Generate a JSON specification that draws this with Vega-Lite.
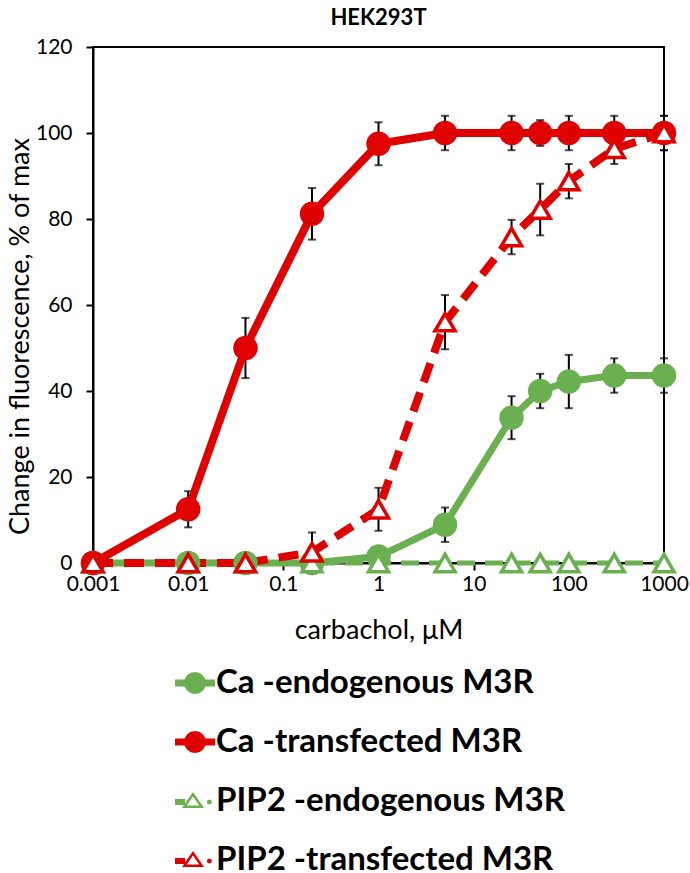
{
  "$schema": "https://vega.github.io/schema/vega-lite/v6.json",
  "width": 571,
  "height": 516,
  "autosize": {"type": "none"},
  "padding": {"left": 93, "top": 47, "right": 26, "bottom": 310},
  "background": "white",
  "title": {"text": "HEK293T", "font": "Lato", "fontSize": 22, "fontWeight": "bold", "color": "black", "offset": 6, "anchor": "middle"},
  "config": {
    "view": {"stroke": "black", "strokeWidth": 2},
    "axis": {"grid": false, "domainColor": "black", "domainWidth": 2, "tickColor": "black", "tickWidth": 2, "tickSize": 7, "labelFlush": false, "labelFont": "Lato", "labelFontSize": 21, "labelColor": "black", "titleFont": "Lato", "titleFontSize": 27, "titleFontWeight": "normal", "titleColor": "black"}
  },
  "datasets": {
    "points": [
      {"conc": 0.001, "series": "Ca -endogenous M3R", "value": 0, "err": null},
      {"conc": 0.01, "series": "Ca -endogenous M3R", "value": 0, "err": null},
      {"conc": 0.04, "series": "Ca -endogenous M3R", "value": 0, "err": null},
      {"conc": 0.2, "series": "Ca -endogenous M3R", "value": 0, "err": null},
      {"conc": 1, "series": "Ca -endogenous M3R", "value": 1.5, "err": null},
      {"conc": 5, "series": "Ca -endogenous M3R", "value": 8.9, "err": 4},
      {"conc": 25, "series": "Ca -endogenous M3R", "value": 33.8, "err": 5},
      {"conc": 50, "series": "Ca -endogenous M3R", "value": 40, "err": 4},
      {"conc": 100, "series": "Ca -endogenous M3R", "value": 42.2, "err": 6.2},
      {"conc": 300, "series": "Ca -endogenous M3R", "value": 43.6, "err": 4},
      {"conc": 1000, "series": "Ca -endogenous M3R", "value": 43.6, "err": 4},
      {"conc": 0.001, "series": "Ca -transfected M3R", "value": 0, "err": null},
      {"conc": 0.01, "series": "Ca -transfected M3R", "value": 12.5, "err": 4.2},
      {"conc": 0.04, "series": "Ca -transfected M3R", "value": 50, "err": 7},
      {"conc": 0.2, "series": "Ca -transfected M3R", "value": 81.2, "err": 6},
      {"conc": 1, "series": "Ca -transfected M3R", "value": 97.5, "err": 5},
      {"conc": 5, "series": "Ca -transfected M3R", "value": 100, "err": 4},
      {"conc": 25, "series": "Ca -transfected M3R", "value": 100, "err": 4},
      {"conc": 50, "series": "Ca -transfected M3R", "value": 100, "err": 3},
      {"conc": 100, "series": "Ca -transfected M3R", "value": 100, "err": 4},
      {"conc": 300, "series": "Ca -transfected M3R", "value": 100, "err": 4},
      {"conc": 1000, "series": "Ca -transfected M3R", "value": 100, "err": 4},
      {"conc": 0.001, "series": "PIP2 -endogenous M3R", "value": 0, "err": null},
      {"conc": 0.01, "series": "PIP2 -endogenous M3R", "value": 0, "err": null},
      {"conc": 0.04, "series": "PIP2 -endogenous M3R", "value": 0, "err": null},
      {"conc": 0.2, "series": "PIP2 -endogenous M3R", "value": 0, "err": null},
      {"conc": 1, "series": "PIP2 -endogenous M3R", "value": 0, "err": null},
      {"conc": 5, "series": "PIP2 -endogenous M3R", "value": 0, "err": null},
      {"conc": 25, "series": "PIP2 -endogenous M3R", "value": 0, "err": null},
      {"conc": 50, "series": "PIP2 -endogenous M3R", "value": 0, "err": null},
      {"conc": 100, "series": "PIP2 -endogenous M3R", "value": 0, "err": null},
      {"conc": 300, "series": "PIP2 -endogenous M3R", "value": 0, "err": null},
      {"conc": 1000, "series": "PIP2 -endogenous M3R", "value": 0, "err": null},
      {"conc": 0.001, "series": "PIP2 -transfected M3R", "value": 0, "err": null},
      {"conc": 0.01, "series": "PIP2 -transfected M3R", "value": 0, "err": null},
      {"conc": 0.04, "series": "PIP2 -transfected M3R", "value": 0, "err": null},
      {"conc": 0.2, "series": "PIP2 -transfected M3R", "value": 2.5, "err": 4.6},
      {"conc": 1, "series": "PIP2 -transfected M3R", "value": 12.5, "err": 5},
      {"conc": 5, "series": "PIP2 -transfected M3R", "value": 56, "err": 6.3},
      {"conc": 25, "series": "PIP2 -transfected M3R", "value": 75.8, "err": 4},
      {"conc": 50, "series": "PIP2 -transfected M3R", "value": 82.2, "err": 6},
      {"conc": 100, "series": "PIP2 -transfected M3R", "value": 88.8, "err": 4},
      {"conc": 300, "series": "PIP2 -transfected M3R", "value": 96.3, "err": 3.5},
      {"conc": 1000, "series": "PIP2 -transfected M3R", "value": 100, "err": 4}
    ]
  },
  "encoding": {
    "x": {"field": "conc", "type": "quantitative", "scale": {"type": "log", "domain": [0.001, 1000], "nice": false},
      "axis": {"title": "carbachol, μM", "values": [0.001, 0.01, 0.1, 1, 10, 100, 1000], "format": "~g", "labelPadding": 3, "titlePadding": 23}},
    "y": {"field": "value", "type": "quantitative", "scale": {"domain": [0, 120], "nice": false, "zero": true},
      "axis": {"title": "Change in fluorescence, % of max", "values": [0, 20, 40, 60, 80, 100, 120], "labelPadding": 14, "titlePadding": 1, "titleY": 289}},
    "color": {"field": "series", "type": "nominal", "legend": null,
      "scale": {"domain": ["Ca -endogenous M3R", "Ca -transfected M3R", "PIP2 -endogenous M3R", "PIP2 -transfected M3R"], "range": ["#6AAF50", "#DF0000", "#6AAF50", "#DF0000"]}}
  },
  "layer": [
    {
      "data": {"name": "points"},
      "transform": [{"filter": "datum.conc < 0"}],
      "mark": {"type": "point", "filled": true, "size": 1600, "opacity": 1, "strokeWidth": 0},
      "encoding": {
        "color": {"field": "series", "type": "nominal",
          "scale": {"domain": ["Ca -endogenous M3R", "Ca -transfected M3R", "PIP2 -endogenous M3R", "PIP2 -transfected M3R"], "range": ["#6AAF50", "#DF0000", "#6AAF50", "#DF0000"]},
          "legend": {"orient": "none", "legendX": 82, "legendY": 616, "title": null, "direction": "vertical", "padding": 0,
            "labelFont": "Lato", "labelFontSize": 33, "labelFontWeight": "bold", "labelColor": "black", "labelLimit": 600, "labelOffset": 1,
            "symbolSize": 1600, "symbolStrokeWidth": 0, "symbolStrokeColor": "transparent", "symbolOpacity": 1, "rowPadding": 22}},
        "shape": {"field": "series", "type": "nominal",
          "scale": {"domain": ["Ca -endogenous M3R", "Ca -transfected M3R", "PIP2 -endogenous M3R", "PIP2 -transfected M3R"],
            "range": [
              "M-1,-0.175L1,-0.175L1,0.175L-1,0.175Z M0.55,0L0.508,0.21L0.389,0.389L0.21,0.508L0,0.55L-0.21,0.508L-0.389,0.389L-0.508,0.21L-0.55,0L-0.508,-0.21L-0.389,-0.389L-0.21,-0.508L0,-0.55L0.21,-0.508L0.389,-0.389L0.508,-0.21Z",
              "M-1,-0.175L1,-0.175L1,0.175L-1,0.175Z M0.55,0L0.508,0.21L0.389,0.389L0.21,0.508L0,0.55L-0.21,0.508L-0.389,0.389L-0.508,0.21L-0.55,0L-0.508,-0.21L-0.389,-0.389L-0.21,-0.508L0,-0.55L0.21,-0.508L0.389,-0.389L0.508,-0.21Z",
              "M-1,-0.1L-0.5,-0.1L-0.5,0.2L-1,0.2Z M-0.65,0.35L-0.1,-0.45L-0.1,-0.229L-0.412,0.225Z M-0.1,-0.45L0.45,0.35L0.212,0.225L-0.1,-0.229Z M0.45,0.35L-0.65,0.35L-0.412,0.225L0.212,0.225Z M0.85,0.05L0.812,0.142L0.72,0.18L0.628,0.142L0.59,0.05L0.628,-0.042L0.72,-0.08L0.812,-0.042Z",
              "M-1,-0.1L-0.5,-0.1L-0.5,0.2L-1,0.2Z M-0.65,0.35L-0.1,-0.45L-0.1,-0.229L-0.412,0.225Z M-0.1,-0.45L0.45,0.35L0.212,0.225L-0.1,-0.229Z M0.45,0.35L-0.65,0.35L-0.412,0.225L0.212,0.225Z M0.85,0.05L0.812,0.142L0.72,0.18L0.628,0.142L0.59,0.05L0.628,-0.042L0.72,-0.08L0.812,-0.042Z"
            ]}}
      }
    },
    {
      "data": {"name": "points"},
      "transform": [{"filter": "datum.err > 0"}],
      "mark": {"type": "errorbar", "color": "black", "thickness": 2, "ticks": {"size": 8, "thickness": 2, "color": "black"}},
      "encoding": {
        "y": {"field": "value", "type": "quantitative"},
        "yError": {"field": "err"},
        "color": null
      }
    },
    {
      "data": {"name": "points"},
      "transform": [{"filter": "datum.series == 'Ca -endogenous M3R'"}],
      "mark": {"type": "line", "strokeWidth": 7}
    },
    {
      "data": {"name": "points"},
      "transform": [{"filter": "datum.series == 'Ca -transfected M3R'"}],
      "mark": {"type": "line", "strokeWidth": 8}
    },
    {
      "data": {"name": "points"},
      "transform": [{"filter": "datum.series == 'PIP2 -endogenous M3R'"}],
      "mark": {"type": "line", "strokeWidth": 5, "strokeDash": [18, 10]}
    },
    {
      "data": {"name": "points"},
      "transform": [{"filter": "datum.series == 'PIP2 -transfected M3R'"}],
      "mark": {"type": "line", "strokeWidth": 8, "strokeDash": [20, 11]}
    },
    {
      "data": {"name": "points"},
      "transform": [{"filter": "indexof(datum.series, 'Ca') == 0"}],
      "mark": {"type": "point", "shape": "circle", "filled": true, "size": 600, "opacity": 1}
    },
    {
      "data": {"name": "points"},
      "transform": [{"filter": "indexof(datum.series, 'PIP2') == 0"}],
      "mark": {"type": "point", "shape": "triangle-up", "filled": false, "fill": "white", "size": 400, "strokeWidth": 3.5, "opacity": 1}
    },
    {
      "data": {"values": [{}]},
      "mark": {"type": "rule", "color": "#6AAF50", "strokeWidth": 1.5, "strokeDash": [5, 3]},
      "encoding": {"x": {"datum": 0.2, "type": "quantitative"}, "y": null, "color": null}
    }
  ]
}
